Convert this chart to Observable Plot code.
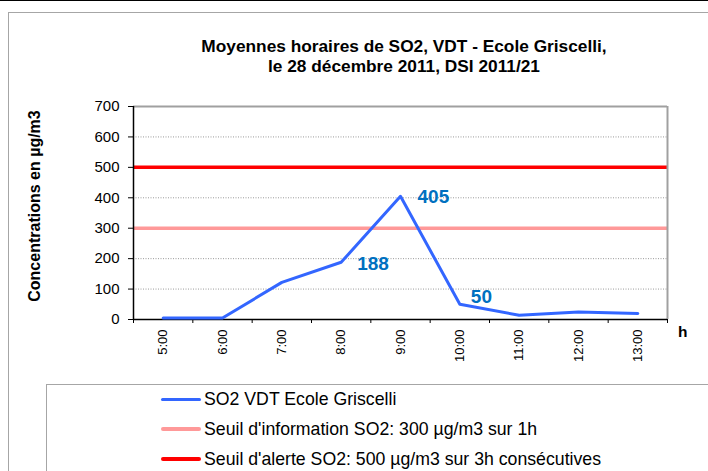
<!DOCTYPE html>
<html>
<head>
<meta charset="utf-8">
<script src="https://cdn.jsdelivr.net/npm/d3@7"></script>
<script src="https://cdn.jsdelivr.net/npm/@observablehq/plot@0.6"></script>
<style>
  html, body { margin: 0; padding: 0; background: #fff; }
  body { font-family: "Liberation Sans", Arial, sans-serif; }
  #wrap { position: relative; width: 708px; height: 471px; overflow: hidden; background: #fff; }
  #wrap svg { position: absolute; left: 0; top: 0; }
  .abs { position: absolute; }
  .title { left: 0; width: 808px; text-align: center; font-weight: bold; font-size: 17.3px; line-height: 20px; color: #000; white-space: nowrap; }
  .leg { left: 204px; font-size: 17.7px; line-height: 20px; color: #000; white-space: nowrap; }
  .sw { left: 161px; width: 40px; border-radius: 2px; }
</style>
</head>
<body>
<div id="wrap"></div>
<script>
// ---- data ----
const hours = ["5:00", "6:00", "7:00", "8:00", "9:00", "10:00", "11:00", "12:00", "13:00"];
const so2 = [5, 5, 122, 188, 405, 50, 14, 25, 20];
const labelledHours = ["8:00", "9:00", "10:00"];
const infoThreshold = [300];
const alertThreshold = [500];
const yTicks = [0, 100, 200, 300, 400, 500, 600, 700];
const gridTicks = [100, 200, 300, 400, 500, 600];
const titleLines = ["Moyennes horaires de SO2, VDT - Ecole Griscelli,", "le 28 décembre 2011, DSI 2011/21"];
const yLabel = "Concentrations en µg/m3";
const xUnit = "h";
const seriesNames = ["SO2 VDT Ecole Griscelli", "Seuil d'information SO2: 300 µg/m3 sur 1h", "Seuil d'alerte SO2: 500 µg/m3 sur 3h consécutives"];
const seriesColors = ["#3366FF", "#FF9999", "#FF0000"];

const rows = hours.map((h, i) => ({hour: h, idx: i, value: so2[i]}));
const boundaries = d3.range(-0.5, hours.length, 1);

const labelOffsets = {"8:00": [16, 2], "9:00": [17, 1], "10:00": [11, -7]};

const font = '"Liberation Sans", Arial, sans-serif';

const plot = Plot.plot({
  width: 708,
  height: 471,
  marginLeft: 133,
  marginRight: 41,
  marginTop: 106,
  marginBottom: 152,
  style: {fontFamily: font, fontSize: "14px", background: "transparent", overflow: "visible", color: "#000"},
  x: {type: "linear", domain: [-0.5, hours.length - 0.5]},
  y: {domain: [0, 700]},
  marks: [
    Plot.gridY(gridTicks, {stroke: "#808080", strokeOpacity: 1, strokeDasharray: "1,1.5", strokeWidth: 0.8}),
    Plot.ruleY(infoThreshold, {stroke: seriesColors[1], strokeWidth: 3.5}),
    Plot.ruleY(alertThreshold, {stroke: seriesColors[2], strokeWidth: 3.5}),
    Plot.ruleY([700], {stroke: "#a0a0a0", strokeWidth: 2}),
    Plot.ruleX([hours.length - 0.5], {stroke: "#a0a0a0", strokeWidth: 2}),
    Plot.ruleX([-0.5], {stroke: "#000", strokeWidth: 1.5}),
    Plot.ruleY([0], {stroke: "#000", strokeWidth: 1.5}),
    Plot.axisX(boundaries, {tickSize: 4, tickFormat: () => "", stroke: "#000", label: null}),
    Plot.axisX(d3.range(hours.length), {tickSize: 0, tickPadding: 10, tickRotate: -90, tickFormat: i => hours[i], fontSize: 13, label: null}),
    Plot.axisY(yTicks, {tickSize: 5, tickPadding: 9, fontSize: 15, label: null}),
    Plot.line(rows, {x: "idx", y: "value", stroke: seriesColors[0], strokeWidth: 3}),
    ...labelledHours.map(h => Plot.text(rows.filter(r => r.hour === h), {
      x: "idx", y: "value", text: d => String(d.value),
      textAnchor: "start", dx: labelOffsets[h][0], dy: labelOffsets[h][1],
      fill: "#0070C0", fontWeight: "bold", fontSize: 19
    })),
    Plot.text([yLabel], {frameAnchor: "left", text: d => d, textAnchor: "middle", rotate: -90, dx: -99, dy: -7, fontWeight: "bold", fontSize: 16, fill: "#000"}),
    Plot.text([xUnit], {frameAnchor: "bottom-right", text: d => d, dx: 20, dy: 17, fontWeight: "bold", fontSize: 15.5, fill: "#000"})
  ]
});

const wrap = document.getElementById("wrap");

function box(style) {
  const d = document.createElement("div");
  d.className = "abs";
  Object.assign(d.style, style);
  wrap.appendChild(d);
  return d;
}
box({left: "0px", top: "0px", width: "708px", height: "1px", background: "#000"});
box({left: "8px", top: "12px", width: "760px", height: "520px", border: "1px solid #a6a6a6", boxSizing: "border-box"});
box({left: "46px", top: "384px", width: "760px", height: "200px", border: "1px solid #a6a6a6", boxSizing: "border-box"});

wrap.appendChild(plot);

// title
titleLines.forEach((t, i) => {
  const d = box({top: (36 + i * 20) + "px"});
  d.className = "abs title";
  d.textContent = t;
});

// legend
const swWidths = [3, 4, 4];
seriesNames.forEach((n, i) => {
  const cy = 399 + i * 30;
  const s = box({top: (cy - swWidths[i] / 2) + "px", height: swWidths[i] + "px", background: seriesColors[i]});
  s.className = "abs sw";
  const t = box({top: (cy - 9.8) + "px"});
  t.className = "abs leg";
  t.textContent = n;
});
</script>
</body>
</html>
